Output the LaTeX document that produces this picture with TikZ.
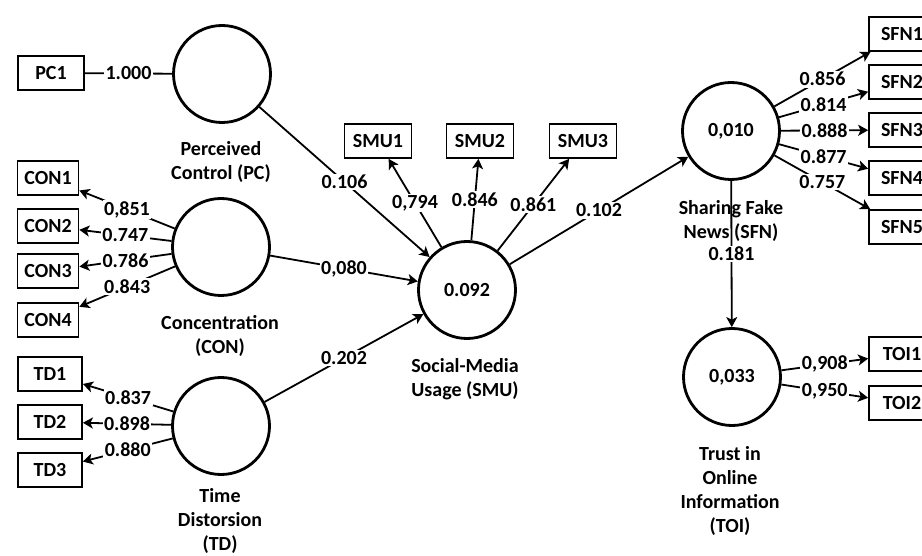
\documentclass[tikz,border=0pt]{standalone}
\usepackage{fontspec}
\setmainfont{Carlito}
\usepackage{tikz}
\usetikzlibrary{arrows.meta}

\begin{document}
\begin{tikzpicture}[x=1pt, y=-1pt,
    every node/.style={font=\bfseries\fontsize{20}{24}\selectfont},
    latent/.style={shape=circle, draw, line width=2.8pt, fill=white, minimum size=97, inner sep=0pt},
    item/.style={shape=rectangle, draw, line width=1.7pt, fill=white, minimum height=34, inner sep=2pt},
    link/.style={line width=1.8pt, -{Stealth[length=10pt, width=11pt, inset=2.5pt]}},
    coef/.style={fill=white, inner sep=1.5pt},
    caption/.style={align=center}]

            \useasboundingbox (0, 0) rectangle (922, 556);
            \clip (0, 0) rectangle (922, 556);

            \node[latent] (PC) at (222, 74) {};
            \node[latent] (CON) at (221, 247) {};
            \node[latent] (TD) at (221, 426) {};
            \node[latent] (SMU) at (467, 290) {0.092};
            \node[latent] (SFN) at (731, 131) {0,010};
            \node[latent] (TOI) at (732, 377) {0,033};

            \node[item, minimum width=66] (PC1) at (51, 73) {PC1};
            \node[item, minimum width=61] (CON1) at (48, 178) {CON1};
            \node[item, minimum width=61] (CON2) at (48, 226) {CON2};
            \node[item, minimum width=61] (CON3) at (48, 271) {CON3};
            \node[item, minimum width=61] (CON4) at (48, 320) {CON4};
            \node[item, minimum width=64] (TD1) at (50, 374) {TD1};
            \node[item, minimum width=64] (TD2) at (50, 422) {TD2};
            \node[item, minimum width=64] (TD3) at (50, 470) {TD3};
            \node[item, minimum width=67] (SMU1) at (378, 141) {SMU1};
            \node[item, minimum width=67] (SMU2) at (480, 141) {SMU2};
            \node[item, minimum width=67] (SMU3) at (583, 141) {SMU3};
            \node[item, minimum width=66] (SFN1) at (902, 34) {SFN1};
            \node[item, minimum width=66] (SFN2) at (902, 82) {SFN2};
            \node[item, minimum width=66] (SFN3) at (902, 130) {SFN3};
            \node[item, minimum width=66] (SFN4) at (902, 178) {SFN4};
            \node[item, minimum width=66] (SFN5) at (902, 227) {SFN5};
            \node[item, minimum width=66] (TOI1) at (902, 354) {TOI1};
            \node[item, minimum width=66] (TOI2) at (902, 403) {TOI2};

            % outer loadings
            \draw[line width=1.8pt] (PC) to node[coef] {1.000} (PC1);
            \draw[link] (CON) to node[coef] {0,851} (CON1);
            \draw[link] (CON) to node[coef] {0.747} (CON2);
            \draw[link] (CON) to node[coef] {0.786} (CON3);
            \draw[link] (CON) to node[coef] {0.843} (CON4);
            \draw[link] (TD) to node[coef] {0.837} (TD1);
            \draw[link] (TD) to node[coef] {0.898} (TD2);
            \draw[link] (TD) to node[coef] {0.880} (TD3);
            \draw[link] (SMU) to node[coef] {0,794} (SMU1);
            \draw[link] (SMU) to node[coef] {0.846} (SMU2);
            \draw[link] (SMU) to node[coef] {0.861} (SMU3);
            \draw[link] (SFN) to node[coef] {0.856} (SFN1);
            \draw[link] (SFN) to node[coef] {0.814} (SFN2);
            \draw[link] (SFN) to node[coef] {0.888} (SFN3);
            \draw[link] (SFN) to node[coef] {0.877} (SFN4);
            \draw[link] (SFN) to node[coef] {0.757} (SFN5);
            \draw[link] (TOI) to node[coef] {0,908} (TOI1);
            \draw[link] (TOI) to node[coef] {0,950} (TOI2);

            % path coefficients
            \draw[link] (PC) to node[coef] {0.106} (SMU);
            \draw[link] (CON) to node[coef] {0,080} (SMU);
            \draw[link] (TD) to node[coef] {0.202} (SMU);
            \draw[link] (SMU) to node[coef] {0.102} (SFN);
            \draw[link] (SFN) to node[coef] {0.181} (TOI);

            \node[caption] (PCname) at (221, 162) {Perceived\\Control (PC)};
            \node[caption] (CONname) at (220, 336) {Concentration\\(CON)};
            \node[caption] (TDname) at (220, 521) {Time\\Distorsion\\(TD)};
            \node[caption] (SMUname) at (465, 379) {Social-Media\\Usage (SMU)};
            \node[caption] (SFNname) at (731, 221) {Sharing Fake\\News (SFN)};
            \node[caption] (TOIname) at (730, 491) {Trust in\\Online\\Information\\(TOI)};

\end{tikzpicture}
\end{document}
